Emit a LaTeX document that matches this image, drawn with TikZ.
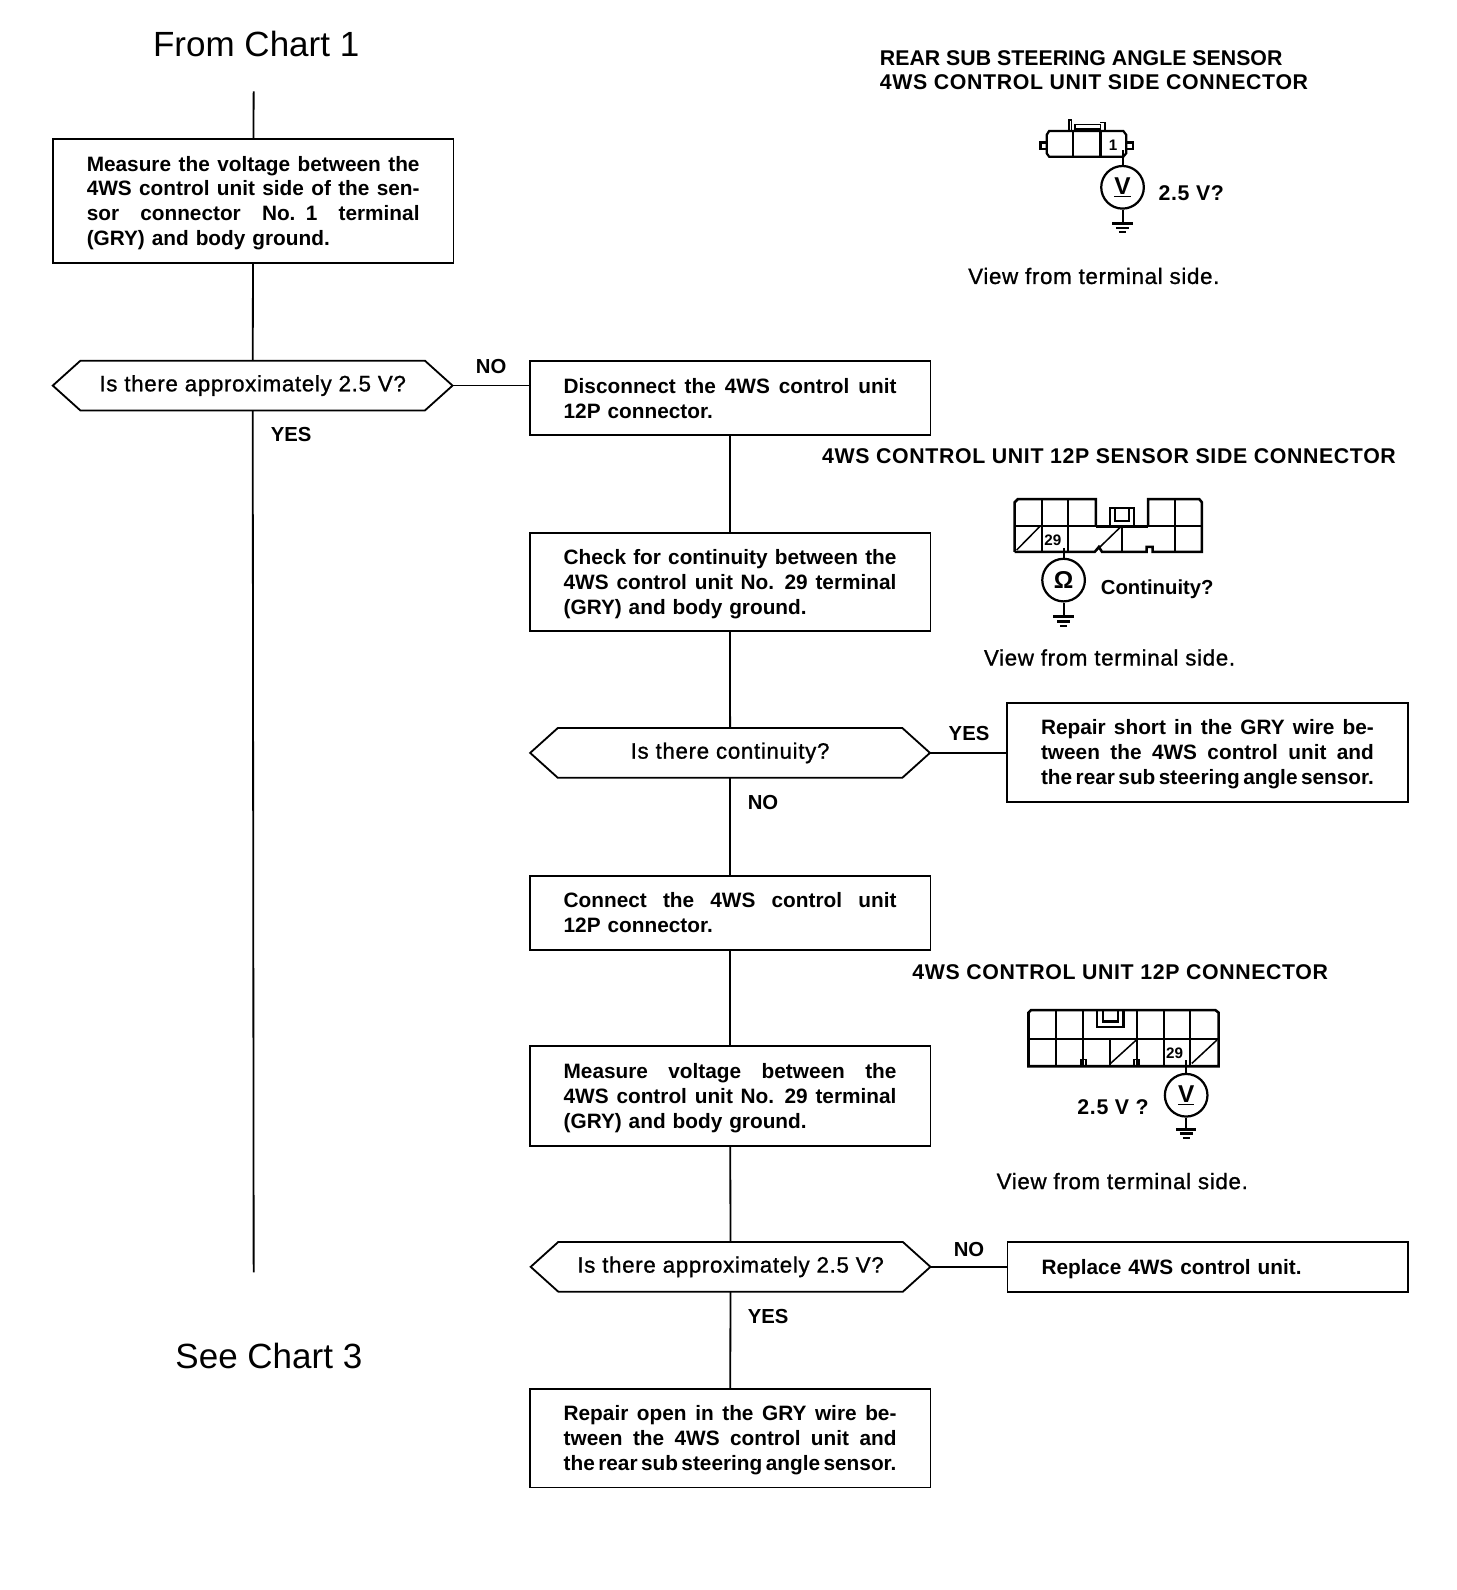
\documentclass[tikz,border=0pt]{standalone}
\usepackage{fontspec}
\setmainfont{Liberation Sans}
\newfontfamily\medfont[FakeBold=1,LetterSpace=3]{Liberation Sans}
\newfontfamily\titrefont[LetterSpace=3]{Liberation Sans}
\usetikzlibrary{shapes.symbols}
\newcommand{\jl}[1]{\makebox[328pt][s]{\spaceskip=.1em plus 1em\relax #1}}
\tikzset{
    procbox/.style={draw,line width=1.8pt,outer sep=0pt,text width=328pt,inner xsep=33.5pt,inner ysep=0pt,
      align=left,font=\fontsize{20.5}{24.5}\selectfont\bfseries},
    bas3/.style={execute at begin node={\rule{0pt}{19pt}}},
    testbox/.style={draw,line width=1.8pt,outer sep=0pt,signal,signal to=east and west,signal pointer angle=84,
      minimum width=394pt,minimum height=49pt,inner sep=0pt,font=\fontsize{22}{24.5}\selectfont\medfont},
    lien/.style={line width=1.8pt},
    etiq/.style={font=\fontsize{20}{24}\selectfont\bfseries,inner sep=0pt},
    titre/.style={font=\fontsize{21}{24}\selectfont\titrefont\bfseries,inner sep=0pt},
    vue/.style={font=\fontsize{22}{24}\selectfont\medfont,inner sep=0pt},
    chart/.style={font=\fontsize{34.5}{40}\selectfont,inner sep=0pt},
    meter/.style={draw,circle,line width=2.2pt,minimum size=42pt,inner sep=0pt,font=\fontsize{24}{24}\selectfont\bfseries},
    numero/.style={font=\fontsize{15}{15}\selectfont\bfseries,inner sep=0pt},
    ground/.pic={
      \draw[line width=3pt] (-10,0) -- (10,0);
      \draw[line width=2.5pt] (-6.5,4.5) -- (6.5,4.5);
      \draw[line width=2pt] (-3.5,9) -- (3.5,9);
    },
}
\begin{document}
\begin{tikzpicture}[x=1pt,y=-1pt]
    \useasboundingbox (0,0) rectangle (1435,1567);

    %titres
    \node[chart] (from) at (252.5,43) {From Chart 1};
    \node[chart] (see) at (265,1336) {See Chart 3};

    %colonne gauche
    \coordinate (haut) at (250,90);
    \coordinate (bas) at (250,1254);
    \node[procbox,bas3,minimum height=122pt] (mes1) at (249.5,198) {\jl{Measure the voltage between the}\\\jl{4WS control unit side of the sen-}\\\jl{sor connector No. 1 terminal}\\(GRY) and body ground.};
    \node[testbox] (q1) at (249,380) {Is there approximately 2.5 V?};
    \draw[lien] (haut) -- (mes1);
    \draw[lien] (mes1) -- (q1);
    \draw[lien] (q1) -- (bas);
    \node[etiq] (q1oui) at (287,428) {YES};
    \node[etiq] (q1non) at (484,361) {NO};

    %colonne milieu
    \node[procbox,minimum height=73pt] (dec) at (719.5,392.5) {\jl{Disconnect the 4WS control unit}\\12P connector.};
    \node[procbox,bas3,minimum height=97pt] (cont) at (719.5,573.5) {\jl{Check for continuity between the}\\\jl{4WS control unit No. 29 terminal}\\(GRY) and body ground.};
    \node[testbox] (q2) at (719.5,742) {Is there continuity?};
    \node[procbox,minimum height=73pt] (conn) at (719.5,899.5) {\jl{Connect the 4WS control unit}\\12P connector.};
    \node[procbox,bas3,minimum height=98pt] (mes2) at (719.5,1080) {\jl{Measure voltage between the}\\\jl{4WS control unit No. 29 terminal}\\(GRY) and body ground.};
    \node[testbox] (q3) at (720,1248.5) {Is there approximately 2.5 V?};
    \node[procbox,bas3,minimum height=97pt] (open) at (719.5,1417.5) {\jl{Repair open in the GRY wire be-}\\\jl{tween the 4WS control unit and}\\\jl{the rear sub steering angle sensor.}};
    \draw[lien] (q1.east) -- (q1.east -| dec.west);
    \draw[lien] (dec) -- (cont);
    \draw[lien] (cont) -- (q2);
    \draw[lien] (q2) -- (conn);
    \draw[lien] (conn) -- (mes2);
    \draw[lien] (mes2) -- (q3);
    \draw[lien] (q3) -- (open);
    \node[etiq] (q2non) at (752,791) {NO};
    \node[etiq] (q3oui) at (757,1297) {YES};

    %colonne droite
    \node[procbox,bas3,minimum height=97pt] (short) at (1190,741.5) {\jl{Repair short in the GRY wire be-}\\\jl{tween the 4WS control unit and}\\\jl{the rear sub steering angle sensor.}};
    \node[procbox,bas3,minimum height=49pt] (repl) at (1190.5,1248.5) {Replace 4WS control unit.};
    \draw[lien] (q2.east) -- (q2.east -| short.west);
    \draw[lien] (q3.east) -- (q3.east -| repl.west);
    \node[etiq] (q2oui) at (955,723) {YES};
    \node[etiq] (q3non) at (955,1231) {NO};

    %connecteur 1
    \node[etiq,font=\fontsize{21}{24}\selectfont\bfseries,anchor=west] (t1a) at (867,57) {REAR SUB STEERING ANGLE SENSOR};
    \node[titre,anchor=west] (t1b) at (867,81) {4WS CONTROL UNIT SIDE CONNECTOR};
    \draw[line width=2.2pt] (1034,129) -- (1107,129) -- (1110,133) -- (1110,151) -- (1107,154.5) -- (1034,154.5) -- (1031.5,151) -- (1031.5,133) -- cycle;
    \foreach \x in {1057.5,1084.5}
      \draw[line width=2.2pt] (\x,129) -- (\x,154.5);
    \draw[line width=2.2pt] (1031.5,140.5) -- (1025.5,140.5) -- (1025.5,147) -- (1031.5,147);
    \draw[line width=2.2pt] (1110,140.5) -- (1116.5,140.5) -- (1116.5,147) -- (1110,147);
    \draw[line width=1.5pt] (1053.5,129) -- (1053.5,118.5) -- (1056,118.5) -- (1056,129);
    \draw[line width=1.5pt] (1084.5,120.5) -- (1089,120.5) -- (1089,129);
    \draw[line width=1.2pt] (1059.5,129) -- (1059.5,123) -- (1084.5,123) -- (1084.5,129);
    \draw[line width=3pt] (1059.5,127.5) -- (1084.5,127.5);
    \node[numero] (n1) at (1097,143) {1};
    \coordinate (c1) at (1106.3,148);
    \node[meter] (v1) at (1106.3,184.6) {\underline{V}};
    \coordinate (g1) at (1106.3,220);
    \draw[line width=2pt] (c1) -- (v1);
    \draw[line width=2pt] (v1) -- (g1);
    \pic at (g1) {ground};
    \node[titre] (v1txt) at (1174,190) {2.5 V?};
    \node[vue] (v1vue) at (1078,272) {View from terminal side.};

    %connecteur 2
    \node[titre] (t2) at (1093,450) {4WS CONTROL UNIT 12P SENSOR SIDE CONNECTOR};
    \draw[line width=2.5pt] (1000,543.8) -- (1000,495) -- (1003,492) -- (1080,492) -- (1080,518.6);
    \draw[line width=2.5pt] (1131.5,518.6) -- (1131.5,492) -- (1182,492) -- (1184.5,495) -- (1184.5,543.8) -- (1136,543.8) -- (1136,539) -- (1130,539) -- (1130,543.8) -- (1086,543.8) -- (1083,539) -- (1079,543.8) -- (1000,543.8);
    \draw[line width=2pt] (1000,518.6) -- (1184.5,518.6);
    \draw[line width=3pt] (1080,518.6) -- (1131.5,518.6);
    \foreach \x in {1026.8,1053}
      \draw[line width=2pt] (\x,492) -- (\x,543.8);
    \draw[line width=2pt] (1158.3,492) -- (1158.3,543.8);
    \draw[line width=2pt] (1105.6,518.6) -- (1105.6,543.8);
    \draw[line width=1.5pt] (1002,542) -- (1025,518.6);
    \draw[line width=1.5pt] (1081,542) -- (1104.7,519);
    \draw[line width=2pt] (1093.5,518.6) -- (1093.5,501) -- (1118,501) -- (1118,518.6);
    \draw[line width=2pt] (1098.5,501) -- (1098.5,513) -- (1113,513) -- (1113,501);
    \node[numero] (n2) at (1037.6,532.3) {29};
    \coordinate (c2) at (1048.2,540);
    \node[meter] (o2) at (1048.2,571.7) {\fontsize{24}{24}\selectfont Ω};
    \coordinate (g2) at (1048.2,607.8);
    \draw[line width=2pt] (c2) -- (o2);
    \draw[line width=2pt] (o2) -- (g2);
    \pic at (g2) {ground};
    \node[etiq] (o2txt) at (1140.5,581) {Continuity?};
    \node[vue] (o2vue) at (1093.5,648) {View from terminal side.};

    %connecteur 3
    \node[titre] (t3) at (1104,958) {4WS CONTROL UNIT 12P CONNECTOR};
    \draw[line width=2.5pt] (1013.6,1050.8) -- (1013.6,998) -- (1016,995.6) -- (1198,995.6) -- (1201,998) -- (1201,1050.8) -- cycle;
    \draw[line width=2pt] (1013.6,1023.5) -- (1201,1023.5);
    \foreach \x in {1041,1067,1120.5,1146.7,1173}
      \draw[line width=2pt] (\x,995.6) -- (\x,1050.8);
    \draw[line width=2pt] (1093.5,1023.5) -- (1093.5,1050.8);
    \draw[line width=1.5pt] (1094.5,1048) -- (1119.8,1025);
    \draw[line width=1.5pt] (1174.6,1048) -- (1199.3,1025);
    \draw[line width=2.5pt] (1081,995.6) -- (1081,1012) -- (1107.4,1012) -- (1107.4,995.6);
    \draw[line width=2pt] (1087.5,995.6) -- (1087.5,1006.7) -- (1101.5,1006.7) -- (1101.5,995.6);
    \foreach \x in {1068,1120}
      \draw[line width=1.5pt] (\x-2.5,1050.8) -- (\x-2.5,1044) -- (\x+2.5,1044) -- (\x+2.5,1050.8);
    \node[numero] (n3) at (1157.6,1038.3) {29};
    \coordinate (c3) at (1169,1045);
    \node[meter] (v3) at (1169,1079.4) {\underline{V}};
    \coordinate (g3) at (1169,1112.8);
    \draw[line width=2pt] (c3) -- (v3);
    \draw[line width=2pt] (v3) -- (g3);
    \pic at (g3) {ground};
    \node[titre] (v3txt) at (1097,1091) {2.5 V ?};
    \node[vue] (v3vue) at (1106,1164) {View from terminal side.};
\end{tikzpicture}
\end{document}
